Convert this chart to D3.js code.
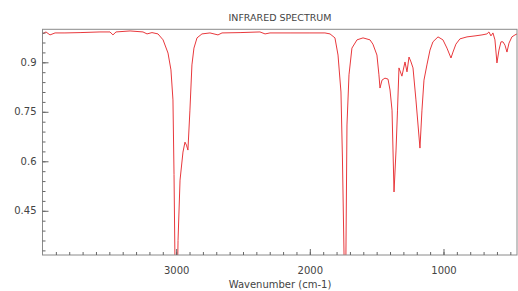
<!DOCTYPE html>
<html>
<head>
<meta charset="utf-8">
<script src="https://cdn.jsdelivr.net/npm/d3@7"></script>
<style>
  body { margin: 0; background: #fff; }
  svg text { font-family: "DejaVu Sans", sans-serif; fill: #444; }
</style>
</head>
<body>
<script>
// wavenumber (cm-1) and transmittance
var wavenumbers = [4000, 3974, 3944, 3906, 3832, 3719, 3570, 3495, 3473, 3450,
  3345, 3248, 3218, 3181, 3136, 3098, 3061, 3039, 3024, 3016,
  3009, 3003, 2994, 2986, 2971, 2949, 2934, 2923, 2912, 2897,
  2882, 2867, 2844, 2807, 2747, 2687, 2657, 2522, 2373, 2335,
  2298, 2148, 1999, 1887, 1849, 1812, 1789, 1767, 1756, 1744,
  1737, 1730, 1722, 1707, 1685, 1647, 1602, 1550, 1528, 1498,
  1483, 1475, 1460, 1438, 1415, 1400, 1385, 1370, 1355, 1344,
  1333, 1311, 1288, 1273, 1258, 1243, 1228, 1206, 1176, 1161,
  1146, 1124, 1101, 1079, 1041, 1004, 974, 944, 929, 907,
  877, 824, 764, 712, 675, 660, 645, 630, 615, 600,
  585, 570, 555, 540, 525, 510, 488, 465, 450];
var transmittance = [0.986, 0.992, 0.983, 0.989, 0.989, 0.990, 0.992, 0.992, 0.983, 0.992,
  0.995, 0.992, 0.986, 0.990, 0.986, 0.968, 0.928, 0.877, 0.786, 0.56,
  0.30, 0.15, 0.15, 0.36, 0.543, 0.628, 0.658, 0.649, 0.634, 0.755,
  0.892, 0.943, 0.974, 0.986, 0.989, 0.983, 0.989, 0.990, 0.992, 0.986,
  0.989, 0.989, 0.989, 0.989, 0.986, 0.974, 0.922, 0.810, 0.610, 0.316,
  0.20, 0.316, 0.710, 0.862, 0.943, 0.968, 0.974, 0.968, 0.955, 0.922,
  0.862, 0.822, 0.846, 0.852, 0.849, 0.816, 0.755, 0.507, 0.634, 0.755,
  0.883, 0.858, 0.901, 0.871, 0.916, 0.901, 0.883, 0.786, 0.640, 0.755,
  0.846, 0.892, 0.937, 0.962, 0.977, 0.968, 0.943, 0.913, 0.931, 0.955,
  0.971, 0.977, 0.980, 0.983, 0.986, 0.992, 0.980, 0.989, 0.968, 0.898,
  0.937, 0.962, 0.962, 0.952, 0.931, 0.958, 0.977, 0.983, 0.986];
var xTicks = [3000, 2000, 1000];
var yTicks = [0.45, 0.6, 0.75, 0.9];
var title = "INFRARED SPECTRUM";
var xLabel = "Wavenumber (cm-1)";

var width = 518, height = 291;
var plotLeft = 42.5, plotRight = 517, plotTop = 29.3, plotBottom = 255;

var svg = d3.select("body").append("svg")
  .attr("width", width)
  .attr("height", height);

var x = d3.scaleLinear().domain([4000, 450]).range([plotLeft, plotRight]);
var y = d3.scaleLinear().domain([0.316, 1.0]).range([plotBottom, plotTop]);

// clip the spectrum to the frame
svg.append("clipPath").attr("id", "plot-clip")
  .append("rect")
  .attr("x", plotLeft).attr("y", plotTop)
  .attr("width", plotRight - plotLeft).attr("height", plotBottom - plotTop);

var points = wavenumbers.map(function(w, i) { return [w, transmittance[i]]; });
var line = d3.line()
  .x(function(d) { return x(d[0]); })
  .y(function(d) { return y(d[1]); });

svg.append("path")
  .datum(points)
  .attr("clip-path", "url(#plot-clip)")
  .attr("fill", "none")
  .attr("stroke", "#e8383c")
  .attr("stroke-width", 1)
  .attr("stroke-linejoin", "round")
  .attr("d", line);

// frame
svg.append("rect")
  .attr("x", plotLeft).attr("y", plotTop)
  .attr("width", plotRight - plotLeft).attr("height", plotBottom - plotTop)
  .attr("fill", "none")
  .attr("stroke", "#8a8a8a")
  .attr("stroke-width", 1);

// x axis: major ticks + minor every 100
var xMinor = d3.range(500, 4000, 100);
svg.append("g")
  .attr("transform", "translate(0," + plotBottom + ")")
  .call(d3.axisBottom(x).tickValues(xMinor).tickSize(-3).tickFormat(""))
  .call(function(g) { g.select(".domain").remove(); g.selectAll("line").attr("stroke", "#666"); });
var xAxis = svg.append("g")
  .attr("transform", "translate(0," + plotBottom + ")")
  .call(d3.axisBottom(x).tickValues(xTicks).tickSizeInner(-6).tickSizeOuter(0).tickPadding(12)
    .tickFormat(d3.format("d")));
xAxis.select(".domain").remove();
xAxis.selectAll("line").attr("stroke", "#666");
xAxis.selectAll("text").attr("font-size", 10).attr("fill", "#444").attr("font-family", "DejaVu Sans, sans-serif");

// y axis: major ticks + minor every 0.03
var yMinor = d3.range(33, 100, 3).map(function(v) { return v / 100; });
svg.append("g")
  .attr("transform", "translate(" + plotLeft + ",0)")
  .call(d3.axisLeft(y).tickValues(yMinor).tickSize(-3).tickFormat(""))
  .call(function(g) { g.select(".domain").remove(); g.selectAll("line").attr("stroke", "#666"); });
var yAxis = svg.append("g")
  .attr("transform", "translate(" + plotLeft + ",0)")
  .call(d3.axisLeft(y).tickValues(yTicks).tickSizeInner(-6).tickSizeOuter(0).tickPadding(6)
    .tickFormat(function(d) { return String(d); }));
yAxis.select(".domain").remove();
yAxis.selectAll("line").attr("stroke", "#666");
yAxis.selectAll("text").attr("font-size", 10).attr("fill", "#444").attr("font-family", "DejaVu Sans, sans-serif");

svg.append("text")
  .attr("x", 280).attr("y", 21)
  .attr("text-anchor", "middle")
  .attr("font-size", 9.5)
  .text(title);

svg.append("text")
  .attr("x", 280).attr("y", 288)
  .attr("text-anchor", "middle")
  .attr("font-size", 10)
  .text(xLabel);
</script>
</body>
</html>
